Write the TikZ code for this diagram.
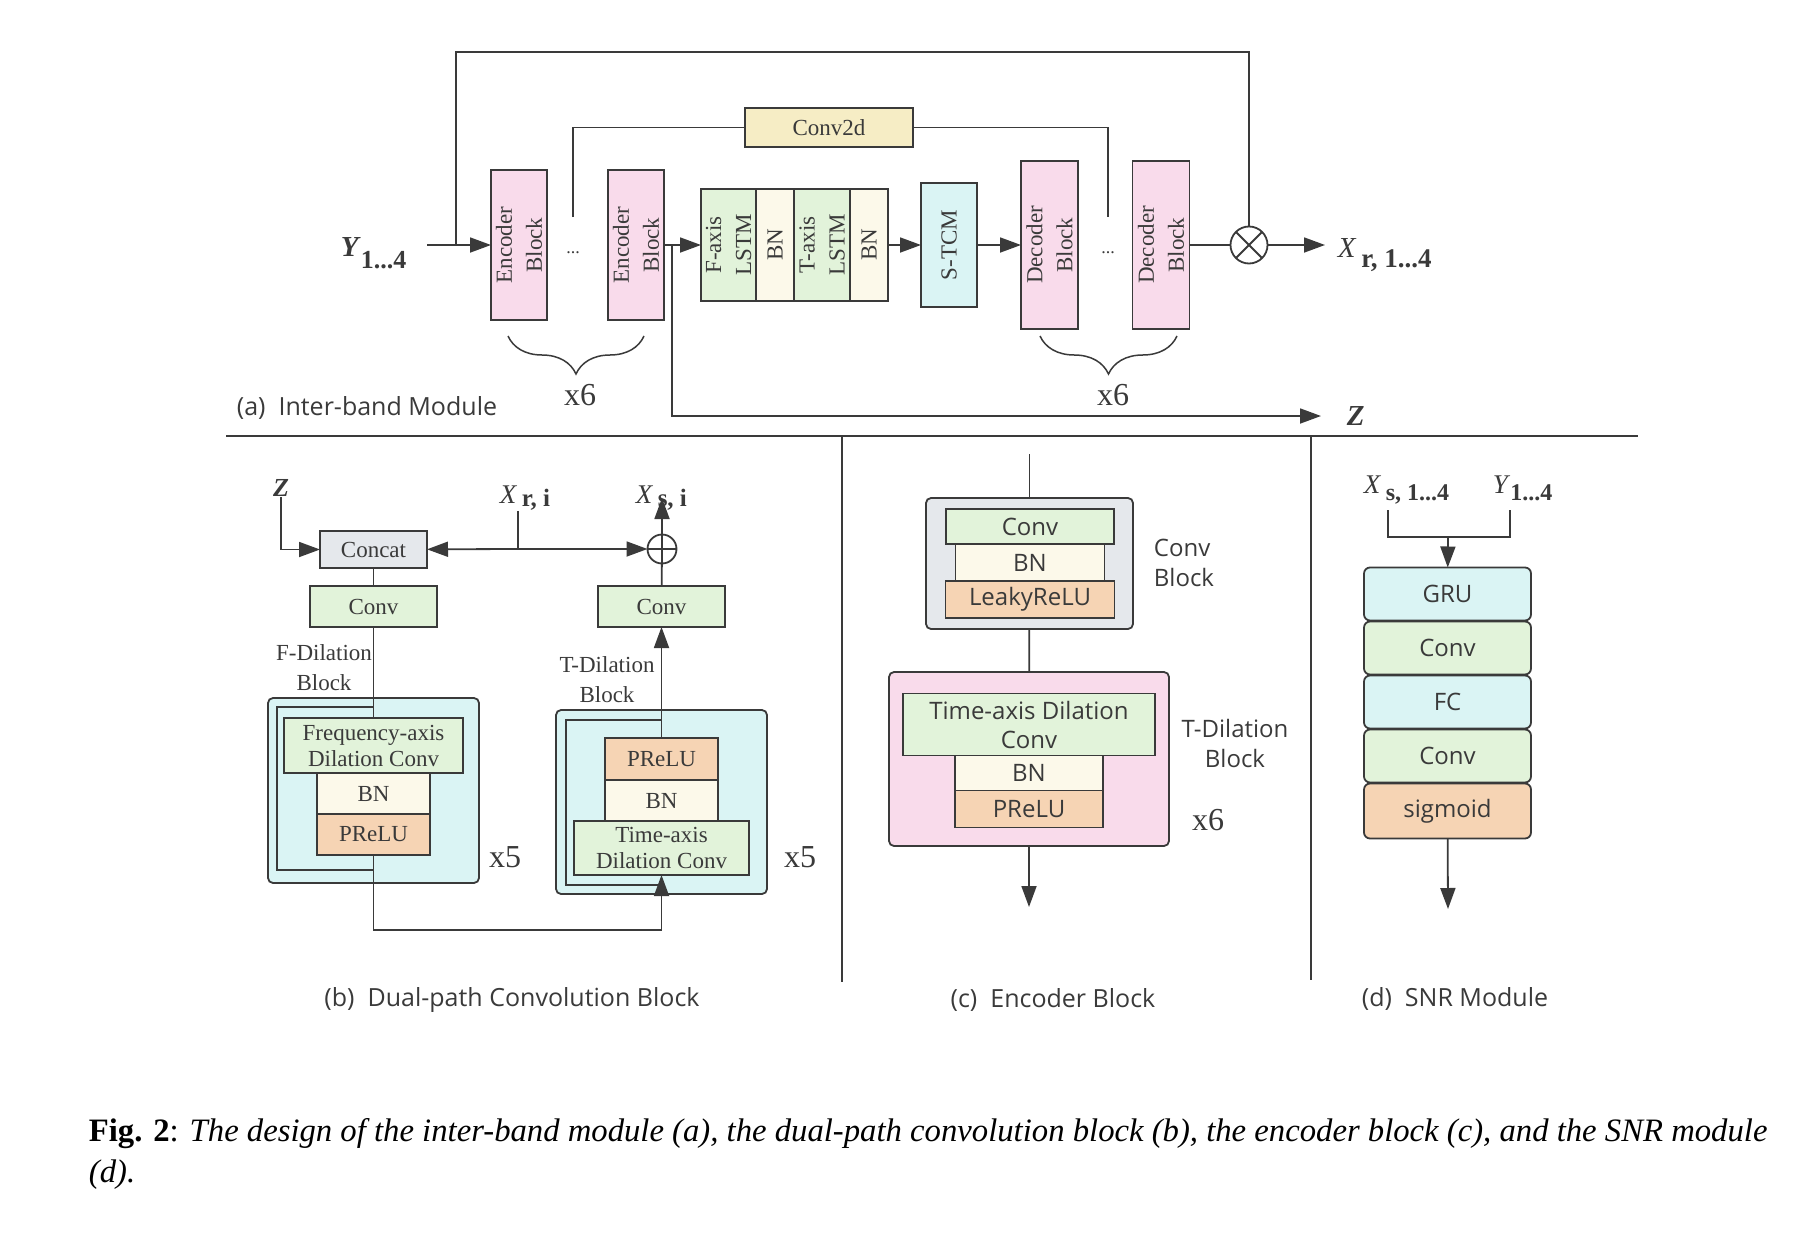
\documentclass[tikz,border=0pt]{standalone}
\usepackage{fontspec}
\setmainfont{Liberation Serif}
\setsansfont{Open Sans}
\usepackage{xcolor}
\usepackage{tikz}
\usetikzlibrary{shapes, arrows.meta, positioning, decorations.pathreplacing}

\definecolor{linecol}{HTML}{3A3A3A}
\definecolor{pinkfill}{HTML}{F9DBEB}
\definecolor{greenfill}{HTML}{E2F3DA}
\definecolor{creamfill}{HTML}{FCF9EA}
\definecolor{cyanfill}{HTML}{DAF4F4}
\definecolor{yellowfill}{HTML}{F6EDC5}
\definecolor{orangefill}{HTML}{F6D4B4}
\definecolor{grayfill}{HTML}{E5E8EC}

\begin{document}
\begin{tikzpicture}[x=1pt, y=-1pt, line width=1.8pt, color=linecol]
    % Define styles
    \tikzstyle{vblk} = [draw, rectangle, rotate=90, align=center, inner sep=0pt, outer sep=0pt, font=\fontsize{23}{30}\selectfont]
    \tikzstyle{enc} = [vblk, fill=pinkfill, minimum width=150pt, minimum height=56pt]
    \tikzstyle{dec} = [vblk, fill=pinkfill, minimum width=168pt, minimum height=57pt]
    \tikzstyle{hblk} = [draw, rectangle, align=center, inner sep=0pt, outer sep=0pt, font=\fontsize{23}{26}\selectfont]
    \tikzstyle{sblk} = [draw, rectangle, align=center, inner sep=0pt, outer sep=0pt, font=\sffamily\fontsize{24}{29}\selectfont]
    \tikzstyle{outer_blk} = [draw, rectangle, rounded corners=5pt, inner sep=0pt]
    \tikzstyle{snr} = [sblk, rounded corners=6pt, minimum width=167pt, minimum height=53pt]
    \tikzstyle{lbl} = [inner sep=0pt, align=center, font=\fontsize{23}{30}\selectfont]
    \tikzstyle{rep_lbl} = [inner sep=0pt, font=\fontsize{32}{32}\selectfont]
    \tikzstyle{panel_lbl} = [inner sep=0pt, font=\sffamily\fontsize{25}{30}\selectfont]
    \tikzstyle{sym_lbl} = [inner sep=0pt, font=\fontsize{29}{29}\selectfont]
    \tikzstyle{flow} = [-{Triangle[length=21pt, width=15pt]}]
    \tikzstyle{curly} = [decorate, decoration={brace, mirror, amplitude=38pt}, line width=1.5pt]
    \tikzstyle{addop} = [draw, circle, minimum size=29pt, inner sep=0pt, outer sep=0pt,
        path picture={\draw (path picture bounding box.north) -- (path picture bounding box.south)
                            (path picture bounding box.west) -- (path picture bounding box.east);}]
    \tikzstyle{mulop} = [draw, circle, minimum size=37pt, inner sep=0pt, outer sep=0pt,
        path picture={\draw (path picture bounding box.north west) -- (path picture bounding box.south east)
                            (path picture bounding box.north east) -- (path picture bounding box.south west);}]

    \useasboundingbox (0,0) rectangle (1802,1244);

    % (a) INTER-BAND MODULE
    \node (y_in) [sym_lbl, anchor=base west] at (340,256) {\textbf{\textit{Y}}\raisebox{-12pt}{\bfseries\fontsize{26}{26}\selectfont 1...4}};
    \node (en1) [enc] at (519,245) {Encoder\\Block};
    \node (dots_en) [lbl, font=\fontsize{18}{18}\selectfont] at (573,253) {...};
    \node (en2) [enc] at (636,245) {Encoder\\Block};
    \node (flstm) [vblk, fill=greenfill, minimum width=112pt, minimum height=55pt] at (728.5,245) {F-axis\\LSTM};
    \node (bn_f) [vblk, fill=creamfill, minimum width=112pt, minimum height=38pt] at (775,245) {BN};
    \node (tlstm) [vblk, fill=greenfill, minimum width=112pt, minimum height=56pt] at (822,245) {T-axis\\LSTM};
    \node (bn_t) [vblk, fill=creamfill, minimum width=112pt, minimum height=38pt] at (869,245) {BN};
    \node (stcm) [vblk, fill=cyanfill, minimum width=124pt, minimum height=56pt] at (949,245) {S-TCM};
    \node (de1) [dec] at (1049.5,245) {Decoder\\Block};
    \node (dots_de) [lbl, font=\fontsize{18}{18}\selectfont] at (1108,253) {...};
    \node (de2) [dec] at (1161,245) {Decoder\\Block};
    \node (mult) [mulop] at (1249,245) {};
    \node (x_out) [sym_lbl, anchor=base west] at (1337,257) {\textit{X}\,\raisebox{-10pt}{\bfseries\fontsize{27}{27}\selectfont r, 1...4}};
    \node (conv2d) [hblk, fill=yellowfill, minimum width=168pt, minimum height=39pt] at (829,127.5) {Conv2d};
    \node (z_out) [sym_lbl, anchor=west] at (1346,416) {\textbf{\textit{Z}}};

    \coordinate (loop_in) at (456,245);
    \coordinate (skip_in) at (573,217);
    \coordinate (skip_out) at (1108,217);
    \coordinate (z_tap) at (672,245);

    \draw[flow, shorten <=20pt] (y_in.east |- en1) -- (en1);
    \draw (loop_in) -- ++(0,-193) -| (mult);
    \draw (skip_in) |- (conv2d);
    \draw (conv2d) -| (skip_out);
    \draw[flow] (en2) -- (flstm);
    \draw[flow] (bn_t) -- (stcm);
    \draw[flow] (stcm) -- (de1);
    \draw (de2) -- (mult);
    \draw[flow, shorten >=12pt] (mult) -- (mult -| x_out.west);
    \draw[flow, shorten >=25pt] (z_tap) |- (z_out);

    \draw[curly] (508,336) -- (644,336);
    \draw[curly] (1040,336) -- (1177,336);
    \node (rep_en) [rep_lbl] at (580,395) {x6};
    \node (rep_de) [rep_lbl] at (1113,395) {x6};
    \node (cap_a) [panel_lbl, anchor=west] at (236,408) {(a)\ \ Inter-band Module};

    % Panel borders
    \draw (226,436) -- (1638,436);
    \draw (842,436) -- (842,982);
    \draw (1311,436) -- (1311,980);

    % (b) DUAL-PATH CONVOLUTION BLOCK
    \node (z_b) [sym_lbl, font=\fontsize{26}{26}\selectfont] at (281,488) {\textbf{\textit{Z}}};
    \node (xr_b) [sym_lbl, font=\fontsize{27}{27}\selectfont, anchor=base west] at (499,503) {\textit{X}\,\raisebox{-3pt}{\bfseries\fontsize{25}{25}\selectfont r, i}};
    \node (xs_b) [sym_lbl, font=\fontsize{27}{27}\selectfont, anchor=base west] at (635,503) {\textit{X}\,\raisebox{-3pt}{\bfseries\fontsize{25}{25}\selectfont s, i}};
    \node (concat) [hblk, fill=grayfill, minimum width=107pt, minimum height=37pt] at (373.5,549.5) {Concat};
    \node (plus_b) [addop] at (662,549) {};
    \node (conv_l) [hblk, fill=greenfill, minimum width=127pt, minimum height=41pt] at (373.5,606.5) {Conv};
    \node (conv_r) [hblk, fill=greenfill, minimum width=127pt, minimum height=41pt] at (661.5,606.5) {Conv};

    \node (f_outer) [outer_blk, fill=cyanfill, minimum width=211pt, minimum height=185pt] at (373.5,790.5) {};
    \coordinate (f_res_in) at (373.5,707);
    \coordinate (f_res_out) at (373.5,870);
    \draw (f_res_in) -- ++(-96.5,0) |- (f_res_out);
    \node (freq_conv) [hblk, fill=greenfill, minimum width=179pt, minimum height=55pt] at (373.5,745.5) {Frequency-axis\\Dilation Conv};
    \node (bn_fb) [hblk, fill=creamfill, minimum width=113pt, minimum height=41pt, below=0pt of freq_conv] {BN};
    \node (prelu_fb) [hblk, fill=orangefill, minimum width=113pt, minimum height=41pt, below=0pt of bn_fb] {PReLU};

    \node (t_outer) [outer_blk, fill=cyanfill, minimum width=211pt, minimum height=184pt] at (661.5,802) {};
    \coordinate (t_res_in) at (661.5,720);
    \coordinate (t_res_out) at (661.5,885);
    \draw (t_res_in) -- ++(-95.5,0) |- (t_res_out);
    \node (prelu_tb) [hblk, fill=orangefill, minimum width=113pt, minimum height=42pt] at (661.5,759) {PReLU};
    \node (bn_tb) [hblk, fill=creamfill, minimum width=113pt, minimum height=41pt, below=0pt of prelu_tb] {BN};
    \node (time_conv) [hblk, fill=greenfill, minimum width=175pt, minimum height=54pt, below=0pt of bn_tb] {Time-axis\\Dilation Conv};

    \node (fdil_lbl) [lbl] at (324,668) {F-Dilation\\Block};
    \node (tdil_lbl) [lbl] at (607,680) {T-Dilation\\Block};
    \node (rep_f) [rep_lbl] at (505,857) {x5};
    \node (rep_t) [rep_lbl] at (800,857) {x5};

    \coordinate (xr_j) at (518,549);
    \coordinate (xs_tip) at (662,498);
    \coordinate (b_turn) at (373.5,930);
    \draw[flow] (z_b) |- (concat);
    \draw (xr_j |- xr_b.south) -- (xr_j);
    \draw[flow] (xr_j) -- (concat);
    \draw[flow] (xr_j) -- (plus_b);
    \draw[flow] (plus_b) -- (xs_tip);
    \draw (concat) -- (conv_l);
    \draw (conv_l) -- (freq_conv);
    \draw[flow] (prelu_fb) -- (b_turn) -| (time_conv);
    \draw[flow] (prelu_tb) -- (conv_r);
    \draw (conv_r) -- (plus_b);
    \node (cap_b) [panel_lbl] at (512,1000) {(b)\ \ Dual-path Convolution Block};

    % (c) ENCODER BLOCK
    \node (conv_blk) [outer_blk, fill=grayfill, minimum width=207pt, minimum height=131pt] at (1029.5,563.5) {};
    \node (conv_c) [sblk, fill=greenfill, minimum width=168pt, minimum height=35pt] at (1030,526.5) {Conv};
    \node (bn_c) [sblk, fill=creamfill, minimum width=149pt, minimum height=37pt, below=0pt of conv_c] {BN};
    \node (lrelu_c) [sblk, fill=orangefill, minimum width=169pt, minimum height=37pt, below=0pt of bn_c] {LeakyReLU};
    \node (convblk_lbl) [panel_lbl, font=\sffamily\fontsize{24}{30}\selectfont, align=left, anchor=west] at (1153,563) {Conv\\Block};

    \node (tdil_blk) [outer_blk, fill=pinkfill, minimum width=280pt, minimum height=174pt] at (1029,759) {};
    \node (tconv_c) [sblk, fill=greenfill, minimum width=252pt, minimum height=62pt] at (1029,724.5) {Time-axis Dilation\\Conv};
    \node (bn_c2) [sblk, fill=creamfill, minimum width=148pt, minimum height=35pt, below=0pt of tconv_c] {BN};
    \node (prelu_c) [sblk, fill=orangefill, minimum width=148pt, minimum height=37pt, below=0pt of bn_c2] {PReLU};
    \node (tdil_lbl_c) [panel_lbl, font=\sffamily\fontsize{24}{30}\selectfont, align=center] at (1235,743) {T-Dilation\\Block};
    \node (rep_c) [rep_lbl] at (1208,820) {x6};

    \coordinate (c_in) at (1029.5,454);
    \coordinate (c_out) at (1029,907);
    \draw (c_in) -- (conv_blk);
    \draw (conv_blk) -- (tdil_blk);
    \draw[flow] (tdil_blk) -- (c_out);
    \node (cap_c) [panel_lbl] at (1053,1000) {(c)\ \ Encoder Block};

    % (d) SNR MODULE
    \node (xs_d) [sym_lbl, font=\fontsize{27}{27}\selectfont, anchor=base west] at (1363,493) {\textit{X}\,\raisebox{-7pt}{\bfseries\fontsize{24}{24}\selectfont s, 1...4}};
    \node (y_d) [sym_lbl, font=\fontsize{27}{27}\selectfont, anchor=base west] at (1492,493) {\textit{Y}\raisebox{-7pt}{\bfseries\fontsize{24}{24}\selectfont 1...4}};
    \node (gru) [snr, fill=cyanfill] at (1447.5,594) {GRU};
    \node (conv_d1) [snr, fill=greenfill, below=1pt of gru] {Conv};
    \node (fc_d) [snr, fill=cyanfill, below=1pt of conv_d1] {FC};
    \node (conv_d2) [snr, fill=greenfill, below=1pt of fc_d] {Conv};
    \node (sig_d) [snr, fill=orangefill, minimum height=55pt, below=1pt of conv_d2] {sigmoid};

    \coordinate (d_l) at (1388,510);
    \coordinate (d_r) at (1510,510);
    \coordinate (d_m) at (1448,537);
    \coordinate (d_out) at (1448,909);
    \draw (d_l) |- (d_m) -| (d_r);
    \draw[flow] (d_m) -- (gru);
    \draw[flow] (sig_d) -- (d_out);
    \node (cap_d) [panel_lbl] at (1455,999) {(d)\ \ SNR Module};

    % Caption
    \node (caption) [anchor=west, align=left, inner sep=0pt, text=black, font=\fontsize{32.7}{41}\selectfont] at (88,1154)
        {\textbf{Fig. 2}: \textit{The design of the inter-band module (a), the dual-path convolution block (b), the encoder block (c), and the SNR module}\\\textit{(d).}};
\end{tikzpicture}
\end{document}
